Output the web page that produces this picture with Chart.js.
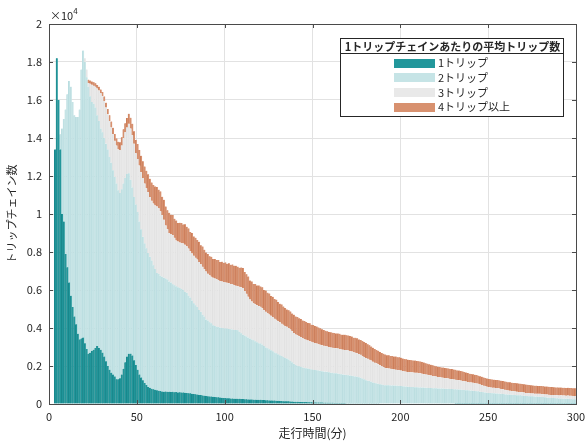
<!DOCTYPE html>
<html>
<head>
<meta charset="utf-8">
<script src="https://cdn.jsdelivr.net/npm/chart.js@4"></script>
<style>
  html, body { margin: 0; background: #fff; }
  #wrap { width: 587px; height: 444px; }
</style>
</head>
<body>
<div id="wrap"><canvas id="c" width="587" height="444"></canvas></div>
<script>
const FONT = '"Noto Sans CJK JP","Noto Sans",sans-serif';

// legend / series
const legendTitle = '1トリップチェインあたりの平均トリップ数';
const seriesNames = ['1トリップ', '2トリップ', '3トリップ', '4トリップ以上'];
const seriesColors = ['#22979b', '#c6e4e6', '#e9e9e9', '#d8916f'];
const edgeColors = ['#137c80', '#b2d8db', '#dcdcdc', '#c2704c'];

// axes
const xTicks = [0, 50, 100, 150, 200, 250, 300];
const yTicks = [0, 2000, 4000, 6000, 8000, 10000, 12000, 14000, 16000, 18000, 20000];
const yExponent = 4;

// 1-minute bins 0..299, bars sit at the bin centres
const binCenters = Array.from({length: 300}, (_, i) => i + 0.5);

// counts per bin, one array per trips-per-chain class
const trip1 = [
  0, 0, 0, 13400, 18200, 16000, 13400, 10000, 9600, 7900,
  7200, 6400, 5700, 5100, 4600, 4200, 3700, 3400, 3450, 3500,
  3200, 2900, 2650, 2700, 2800, 2850, 2950, 3050, 2950, 2850,
  2700, 2500, 2250, 2000, 1800, 1650, 1550, 1450, 1300, 1300,
  1350, 1550, 1850, 2200, 2500, 2650, 2650, 2550, 2300, 2050,
  1800, 1550, 1400, 1250, 1100, 1000, 900, 850, 800, 780,
  750, 720, 700, 680, 660, 650, 660, 640, 650, 630,
  640, 620, 630, 610, 620, 600, 610, 590, 580, 570,
  560, 540, 530, 510, 500, 480, 470, 450, 440, 420,
  410, 400, 390, 380, 370, 360, 350, 340, 330, 320,
  310, 300, 300, 290, 290, 280, 280, 270, 270, 260,
  260, 250, 250, 240, 240, 240, 230, 230, 220, 220,
  220, 210, 210, 200, 200, 190, 190, 180, 180, 170,
  170, 160, 160, 150, 150, 140, 140, 130, 130, 120,
  120, 115, 110, 110, 105, 100, 100, 95, 90, 90,
  85, 85, 80, 80, 75, 75, 70, 70, 65, 65,
  60, 60, 58, 55, 55, 52, 50, 50, 48, 46,
  45, 44, 43, 42, 41, 40, 40, 39, 38, 37,
  36, 36, 35, 35, 34, 34, 33, 33, 32, 32,
  31, 31, 30, 30, 30, 29, 29, 29, 28, 28,
  28, 27, 27, 27, 26, 26, 26, 25, 25, 25,
  25, 24, 24, 24, 23, 23, 23, 23, 22, 22,
  22, 22, 21, 21, 21, 21, 20, 20, 20, 20,
  20, 19, 19, 19, 19, 19, 18, 18, 18, 18,
  18, 18, 17, 17, 17, 17, 17, 17, 16, 16,
  16, 16, 16, 16, 16, 15, 15, 15, 15, 15,
  15, 15, 15, 15, 15, 14, 14, 14, 14, 14,
  14, 14, 14, 14, 14, 13, 13, 13, 13, 13,
  13, 13, 13, 13, 13, 12, 12, 12, 12, 12,
  12, 12, 12, 12, 12, 12, 11, 11, 11, 11
];
const trip2 = [
  0, 0, 0, 0, 0, 0, 800, 4500, 5400, 7600,
  9100, 10600, 11000, 10800, 10600, 10900, 11400, 12100, 14150, 15100,
  14800, 14300, 14050, 13500, 13100, 12950, 12650, 12150, 11950, 11650,
  11600, 11500, 11450, 11400, 11200, 11050, 10750, 10500, 10300, 9950,
  9750, 9750, 9750, 9700, 9600, 9500, 9150, 8850, 8600, 8450,
  8300, 8050, 7800, 7550, 7350, 7200, 7050, 6900, 6750, 6520,
  6350, 6180, 6150, 6070, 6040, 6000, 5940, 5910, 5800, 5770,
  5660, 5630, 5570, 5540, 5480, 5450, 5390, 5310, 5270, 5130,
  5040, 4910, 4770, 4690, 4600, 4470, 4380, 4250, 4160, 4030,
  3990, 3900, 3860, 3770, 3730, 3710, 3700, 3680, 3670, 3670,
  3670, 3670, 3650, 3650, 3630, 3620, 3620, 3610, 3530, 3460,
  3390, 3350, 3300, 3260, 3210, 3160, 3120, 3070, 3030, 2980,
  2970, 2920, 2840, 2780, 2730, 2690, 2640, 2590, 2530, 2500,
  2450, 2410, 2360, 2320, 2270, 2260, 2200, 2140, 2070, 2000,
  1930, 1900, 1880, 1850, 1820, 1790, 1780, 1770, 1750, 1730,
  1720, 1710, 1700, 1680, 1670, 1650, 1640, 1630, 1630, 1610,
  1590, 1580, 1560, 1560, 1550, 1530, 1510, 1500, 1490, 1480,
  1470, 1460, 1440, 1420, 1410, 1400, 1370, 1340, 1300, 1260,
  1220, 1190, 1170, 1140, 1100, 1070, 1050, 1030, 1010, 990,
  970, 960, 960, 960, 950, 950, 940, 940, 930, 930,
  920, 910, 900, 890, 880, 870, 870, 870, 860, 860,
  850, 850, 840, 840, 830, 830, 820, 820, 810, 810,
  810, 800, 800, 790, 790, 780, 780, 780, 770, 770,
  760, 760, 750, 750, 740, 730, 720, 710, 700, 690,
  690, 680, 670, 660, 650, 630, 620, 600, 590, 570,
  560, 560, 550, 550, 540, 540, 530, 520, 510, 500,
  490, 480, 480, 470, 460, 460, 450, 440, 440, 430,
  420, 410, 410, 400, 390, 390, 380, 380, 370, 370,
  360, 350, 340, 330, 320, 310, 300, 300, 290, 290,
  280, 280, 270, 270, 260, 260, 250, 250, 240, 240
];
const trip3 = [
  0, 0, 0, 0, 0, 0, 0, 0, 0, 0,
  0, 0, 0, 0, 0, 0, 0, 0, 0, 0,
  200, 400, 200, 650, 900, 950, 1100, 1400, 1600, 1850,
  1900, 1950, 1900, 1850, 1900, 1850, 1900, 1900, 2000, 2150,
  2250, 2300, 2400, 2400, 2450, 2600, 2700, 2750, 2800, 2700,
  2800, 2950, 3000, 3100, 3150, 3150, 3200, 3150, 3150, 3250,
  3350, 3500, 3450, 3400, 3250, 3050, 2800, 2650, 2550, 2550,
  2600, 2500, 2400, 2400, 2400, 2430, 2450, 2480, 2450, 2480,
  2450, 2470, 2500, 2500, 2500, 2530, 2500, 2520, 2500, 2520,
  2450, 2470, 2450, 2500, 2500, 2490, 2470, 2460, 2450, 2430,
  2420, 2410, 2400, 2380, 2380, 2360, 2320, 2320, 2370, 2420,
  2450, 2350, 2250, 2150, 2050, 2000, 1950, 1950, 1950, 1960,
  1930, 1910, 1890, 1870, 1850, 1830, 1810, 1790, 1780, 1760,
  1740, 1730, 1710, 1700, 1690, 1670, 1660, 1650, 1640, 1620,
  1610, 1600, 1580, 1560, 1540, 1520, 1500, 1480, 1460, 1450,
  1430, 1420, 1400, 1390, 1380, 1370, 1350, 1340, 1330, 1330,
  1320, 1320, 1320, 1320, 1320, 1310, 1310, 1310, 1310, 1310,
  1300, 1290, 1280, 1260, 1250, 1230, 1220, 1210, 1190, 1180,
  1160, 1150, 1130, 1110, 1090, 1070, 1060, 1030, 1000, 970,
  940, 910, 890, 880, 870, 860, 850, 840, 830, 820,
  810, 800, 790, 780, 780, 770, 770, 760, 760, 755,
  750, 745, 730, 715, 700, 690, 675, 660, 645, 630,
  610, 600, 590, 580, 570, 560, 550, 540, 530, 520,
  510, 500, 490, 480, 475, 465, 460, 450, 440, 430,
  425, 420, 410, 405, 395, 380, 365, 350, 335, 320,
  305, 295, 290, 285, 280, 275, 265, 255, 245, 235,
  225, 215, 205, 200, 195, 190, 185, 180, 175, 170,
  165, 160, 160, 155, 155, 155, 150, 150, 150, 150,
  150, 150, 150, 155, 155, 155, 160, 160, 160, 160,
  160, 165, 165, 165, 165, 170, 170, 170, 170, 170
];
const trip4 = [
  0, 0, 0, 0, 0, 0, 0, 0, 0, 0,
  0, 0, 0, 0, 0, 0, 0, 0, 0, 0,
  0, 0, 170, 170, 170, 180, 180, 190, 200, 200,
  220, 240, 260, 280, 300, 320, 340, 360, 380, 400,
  420, 440, 460, 480, 500, 520, 560, 600, 650, 700,
  780, 820, 860, 880, 900, 920, 940, 950, 960, 980,
  1000, 1020, 980, 1040, 960, 1050, 990, 1000, 1060, 1010,
  1050, 1000, 1060, 980, 1040, 1050, 1000, 1080, 1030, 1060,
  1000, 1080, 1020, 1050, 1030, 1060, 1000, 1070, 1020, 1000,
  1040, 1000, 1050, 980, 1030, 1020, 1060, 1000, 1040, 1010,
  1050, 1000, 1060, 1010, 1040, 1020, 1050, 1030, 1000, 1040,
  1060, 1000, 1030, 1060, 1000, 1050, 1020, 1060, 1040, 1080,
  1060, 1100, 1060, 1120, 1080, 1100, 1050, 1080, 1040, 1060,
  1010, 980, 1010, 960, 940, 900, 930, 950, 920, 960,
  940, 970, 940, 960, 930, 960, 940, 920, 950, 900,
  920, 890, 900, 870, 860, 840, 830, 810, 800, 790,
  800, 790, 800, 780, 790, 800, 780, 790, 800, 780,
  790, 780, 790, 770, 780, 790, 770, 780, 790, 780,
  790, 770, 760, 740, 730, 720, 700, 710, 700, 690,
  700, 700, 690, 700, 680, 690, 680, 690, 670, 680,
  670, 660, 650, 660, 640, 650, 640, 630, 640, 620,
  630, 620, 610, 600, 590, 580, 570, 560, 560, 550,
  540, 540, 540, 530, 540, 530, 530, 530, 520, 530,
  520, 520, 510, 510, 500, 500, 490, 480, 470, 460,
  450, 450, 440, 440, 430, 430, 430, 430, 430, 430,
  430, 430, 430, 430, 430, 430, 430, 430, 440, 440,
  440, 440, 440, 440, 440, 440, 440, 440, 440, 440,
  440, 440, 430, 430, 430, 420, 420, 420, 420, 420,
  420, 420, 420, 420, 420, 420, 420, 410, 410, 410,
  410, 410, 410, 410, 410, 410, 410, 410, 410, 410
];

const AXIS_COLOR = '#4a4a4a';
const TEXT_COLOR = '#262626';
const GRID_COLOR = '#e2e2e2';

// box, inward ticks, exponent label and the titled legend box
const decorations = {
  id: 'decorations',
  afterDraw(chart) {
    const {ctx, chartArea: a, scales: {x, y}} = chart;
    ctx.save();
    ctx.strokeStyle = AXIS_COLOR;
    ctx.lineWidth = 1;
    ctx.strokeRect(Math.round(a.left) + 0.5, Math.round(a.top) + 0.5,
                   Math.round(a.right - a.left), Math.round(a.bottom - a.top));
    ctx.beginPath();
    xTicks.forEach(v => {
      const px = Math.round(x.getPixelForValue(v)) + 0.5;
      ctx.moveTo(px, a.bottom); ctx.lineTo(px, a.bottom - 4);
      ctx.moveTo(px, a.top); ctx.lineTo(px, a.top + 4);
    });
    yTicks.forEach(v => {
      const py = Math.round(y.getPixelForValue(v)) + 0.5;
      ctx.moveTo(a.left, py); ctx.lineTo(a.left + 4, py);
      ctx.moveTo(a.right, py); ctx.lineTo(a.right - 4, py);
    });
    ctx.stroke();

    // ×10^4
    ctx.fillStyle = TEXT_COLOR;
    ctx.textBaseline = 'alphabetic';
    ctx.textAlign = 'left';
    ctx.font = '11px ' + FONT;
    ctx.fillText('×10', a.left + 1, a.top - 4);
    const w = ctx.measureText('×10').width;
    ctx.font = '8px ' + FONT;
    ctx.fillText(String(yExponent), a.left + 1 + w, a.top - 10);

    // legend
    const L = {left: 340, top: 38, right: 563, bottom: 116, titleH: 15};
    ctx.fillStyle = '#fff';
    ctx.fillRect(L.left, L.top, L.right - L.left, L.bottom - L.top);
    ctx.strokeStyle = TEXT_COLOR;
    ctx.strokeRect(L.left + 0.5, L.top + 0.5, L.right - L.left, L.bottom - L.top);
    ctx.beginPath();
    ctx.moveTo(L.left, L.top + L.titleH + 0.5);
    ctx.lineTo(L.right, L.top + L.titleH + 0.5);
    ctx.stroke();
    ctx.fillStyle = TEXT_COLOR;
    ctx.font = 'bold 11px ' + FONT;
    ctx.textAlign = 'center';
    ctx.textBaseline = 'middle';
    ctx.fillText(legendTitle, (L.left + L.right) / 2 + 1, L.top + L.titleH / 2 + 1);
    ctx.font = '11px ' + FONT;
    ctx.textAlign = 'left';
    seriesNames.forEach((name, i) => {
      const cy = 63 + i * 14.7;
      ctx.fillStyle = seriesColors[i];
      ctx.fillRect(394, Math.round(cy - 4.5), 41, 9);
      ctx.fillStyle = TEXT_COLOR;
      ctx.fillText(name, 438, cy);
    });
    ctx.restore();
  }
};

new Chart(document.getElementById('c').getContext('2d'), {
  type: 'bar',
  data: {
    labels: binCenters,
    datasets: [trip1, trip2, trip3, trip4].map((d, i) => ({
      label: seriesNames[i],
      data: d,
      backgroundColor: seriesColors[i],
      borderColor: edgeColors[i],
      borderWidth: {left: 0.6, right: 0, top: 0, bottom: 0},
      borderSkipped: false,
      barPercentage: 1,
      categoryPercentage: 1
    }))
  },
  options: {
    responsive: false,
    animation: false,
    devicePixelRatio: 1,
    layout: {padding: {top: 24, right: 11, left: 0, bottom: 0}},
    plugins: {legend: {display: false}, tooltip: {enabled: false}},
    scales: {
      x: {
        type: 'linear', min: 0, max: 300, offset: false, stacked: true,
        grid: {offset: false, color: GRID_COLOR, drawTicks: false},
        border: {display: false},
        ticks: {stepSize: 50, padding: 6, maxRotation: 0, color: TEXT_COLOR, font: {family: FONT, size: 11}},
        title: {display: true, text: '走行時間(分)', color: TEXT_COLOR, font: {family: FONT, size: 12}, padding: {top: 0, bottom: 3}},
        afterFit(s) { s.height = 40; s.paddingLeft = 0; s.paddingRight = 0; }
      },
      y: {
        min: 0, max: 20000, stacked: true,
        grid: {color: GRID_COLOR, drawTicks: false},
        border: {display: false},
        ticks: {stepSize: 2000, padding: 7, color: TEXT_COLOR, font: {family: FONT, size: 11},
                callback: v => String(v / 10000)},
        title: {display: true, text: 'トリップチェイン数', color: TEXT_COLOR, font: {family: FONT, size: 11}, padding: {top: 5, bottom: 0}},
        afterFit(s) { s.width = 49; s.paddingTop = 0; s.paddingBottom = 0; }
      }
    }
  },
  plugins: [decorations]
});
</script>
</body>
</html>
